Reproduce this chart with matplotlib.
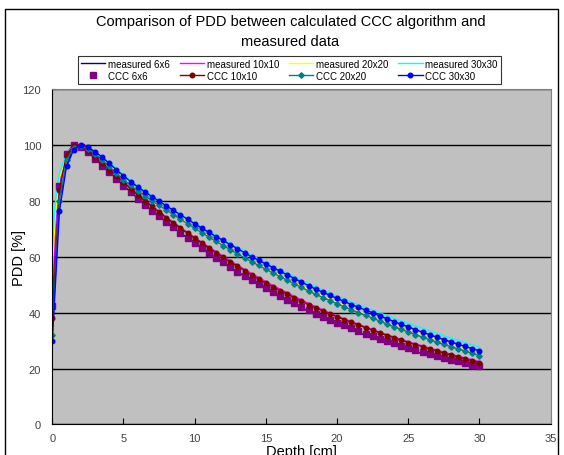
import matplotlib
matplotlib.use("Agg")
import matplotlib.pyplot as plt
from matplotlib.patches import Rectangle

plt.rcParams['font.family'] = ['Liberation Sans', 'DejaVu Sans']

# CCC calculation, every 0.5 cm
ccc_depth = [0.0, 0.5, 1.0, 1.5, 2.0, 2.5, 3.0, 3.5, 4.0, 4.5, 5.0, 5.5, 6.0, 6.5, 7.0, 7.5,
             8.0, 8.5, 9.0, 9.5, 10.0, 10.5, 11.0, 11.5, 12.0, 12.5, 13.0, 13.5, 14.0, 14.5,
             15.0, 15.5, 16.0, 16.5, 17.0, 17.5, 18.0, 18.5, 19.0, 19.5, 20.0, 20.5, 21.0,
             21.5, 22.0, 22.5, 23.0, 23.5, 24.0, 24.5, 25.0, 25.5, 26.0, 26.5, 27.0, 27.5,
             28.0, 28.5, 29.0, 29.5, 30.0]
ccc_6x6 = [42.5, 85.2, 96.6, 99.8, 99.2, 97.3, 95.0, 92.6, 90.2, 87.8, 85.4, 83.0, 80.7, 78.6,
           76.5, 74.4, 72.4, 70.5, 68.6, 66.8, 65.0, 63.2, 61.4, 59.7, 58.0, 56.3, 54.7, 53.1,
           51.6, 50.1, 48.7, 47.3, 45.9, 44.6, 43.3, 42.0, 40.8, 39.6, 38.5, 37.4, 36.4, 35.4,
           34.4, 33.4, 32.5, 31.6, 30.7, 29.8, 29.0, 28.2, 27.4, 26.7, 26.0, 25.3, 24.6, 23.9,
           23.2, 22.6, 22.0, 21.4, 20.8]
ccc_10x10 = [37.9, 83.9, 96.4, 99.7, 99.5, 97.8, 95.6, 93.4, 91.2, 88.9, 86.6, 84.3, 82.1, 80.0,
             78.0, 75.9, 73.9, 72.0, 70.2, 68.4, 66.6, 64.9, 63.1, 61.4, 59.8, 58.1, 56.6, 55.0,
             53.5, 52.0, 50.6, 49.2, 47.9, 46.6, 45.3, 44.0, 42.8, 41.7, 40.6, 39.5, 38.5, 37.5,
             36.5, 35.5, 34.6, 33.7, 32.7, 31.8, 31.0, 30.1, 29.3, 28.5, 27.8, 27.0, 26.3, 25.5,
             24.8, 24.1, 23.4, 22.8, 22.1]
ccc_20x20 = [32.1, 80.1, 94.5, 98.8, 99.6, 98.6, 96.8, 94.6, 92.3, 89.9, 87.6, 85.5, 83.6, 81.8,
             80.0, 78.4, 76.7, 75.1, 73.4, 71.8, 70.2, 68.6, 67.0, 65.5, 64.0, 62.5, 61.1, 59.6,
             58.2, 56.9, 55.5, 54.2, 52.9, 51.6, 50.3, 49.0, 47.7, 46.5, 45.4, 44.3, 43.2, 42.1,
             41.0, 40.0, 39.0, 38.0, 37.0, 35.9, 34.9, 34.0, 33.1, 32.1, 31.2, 30.3, 29.4, 28.6,
             27.8, 27.0, 26.2, 25.4, 24.6]
ccc_30x30 = [29.8, 76.3, 92.4, 98.3, 100.0, 99.2, 97.6, 95.6, 93.4, 91.1, 88.9, 86.9, 85.0, 83.2,
             81.5, 79.9, 78.2, 76.6, 75.0, 73.4, 71.8, 70.2, 68.7, 67.2, 65.8, 64.3, 62.9, 61.4,
             60.0, 58.7, 57.4, 56.1, 54.8, 53.5, 52.2, 50.9, 49.6, 48.4, 47.3, 46.2, 45.1, 44.0,
             42.9, 41.9, 40.9, 39.9, 38.9, 37.8, 36.8, 35.8, 34.9, 33.9, 33.0, 32.1, 31.2, 30.3,
             29.5, 28.7, 27.9, 27.1, 26.3]

# measured data
meas_depth = [0.0, 0.2, 0.5, 1.0, 1.5, 2.0, 2.5, 3, 4, 5, 6, 7, 8, 9, 10, 11, 12, 13, 14, 15,
              16, 17, 18, 19, 20, 21, 22, 23, 24, 25, 26, 27, 28, 29, 30]
meas_6x6 = [45.0, 66.0, 86.5, 97.0, 100.0, 99.3, 97.4, 95.1, 90.3, 85.5, 80.8, 76.5, 72.4, 68.5,
            64.9, 61.3, 57.9, 54.6, 51.5, 48.5, 45.7, 43.0, 40.5, 38.1, 35.9, 33.8, 31.9, 30.1,
            28.4, 26.8, 25.3, 23.9, 22.5, 21.3, 20.1]
meas_10x10 = [48.6, 68.0, 86.0, 96.8, 99.9, 99.6, 98.0, 95.9, 91.4, 86.8, 82.3, 78.2, 74.2, 70.5,
              66.9, 63.5, 60.2, 57.0, 54.0, 51.1, 48.4, 45.8, 43.3, 41.0, 38.8, 36.8, 34.9, 33.0,
              31.3, 29.6, 28.1, 26.6, 25.1, 23.8, 22.5]
meas_20x20 = [55.7, 74.0, 88.0, 96.5, 99.4, 100.0, 99.0, 97.2, 92.8, 88.4, 84.2, 80.4, 76.9, 73.6,
              70.4, 67.3, 64.3, 61.3, 58.5, 55.9, 53.3, 50.8, 48.4, 46.0, 43.6, 41.5, 39.5, 37.6,
              35.7, 33.9, 32.1, 30.4, 28.7, 27.0, 25.4]
meas_30x30 = [62.9, 79.0, 90.0, 97.0, 99.5, 100.0, 99.3, 97.8, 93.7, 89.4, 85.4, 81.8, 78.4, 75.2,
              72.1, 69.1, 66.2, 63.3, 60.5, 57.9, 55.3, 52.8, 50.4, 48.1, 45.9, 43.8, 41.8, 39.9,
              38.0, 36.2, 34.4, 32.6, 30.9, 29.2, 27.6]

fig = plt.figure(figsize=(5.64, 4.56), dpi=100)
ax = fig.add_axes([0.0927, 0.0671, 0.8837, 0.7355])
ax.set_facecolor('#C0C0C0')

# outer chart frame
fig.patches.append(Rectangle((5 / 564, -0.01), 553 / 564, 1 - 10 / 456 + 0.01,
                             transform=fig.transFigure, fill=False, edgecolor='black', lw=1))

m6, = ax.plot(meas_depth, meas_6x6, color='#000080', lw=1, label='measured 6x6')
m10, = ax.plot(meas_depth, meas_10x10, color='#FF00FF', lw=1, label='measured 10x10')
m20, = ax.plot(meas_depth, meas_20x20, color='#FFFF00', lw=1, label='measured 20x20')
m30, = ax.plot(meas_depth, meas_30x30, color='#00FFFF', lw=1, label='measured 30x30')
c6, = ax.plot(ccc_depth, ccc_6x6, ls='none', marker='s', ms=3.8, color='#800080', label='CCC 6x6')
c10, = ax.plot(ccc_depth, ccc_10x10, color='#800000', lw=1, marker='o', ms=3.3, label='CCC 10x10')
c20, = ax.plot(ccc_depth, ccc_20x20, color='#008080', lw=1, marker='D', ms=2.8, label='CCC 20x20')
c30, = ax.plot(ccc_depth, ccc_30x30, color='#0000FF', lw=1, marker='o', ms=3.3, label='CCC 30x30')

ax.set_xlim(0, 35)
ax.set_ylim(0, 120)
ax.set_xticks(range(0, 36, 5))
ax.set_yticks(range(0, 121, 20))
ax.yaxis.grid(True, color='black', lw=1)
ax.set_axisbelow(True)
ax.tick_params(axis='x', direction='in', length=4, labelsize=8, labelcolor='#404040', pad=6)
ax.tick_params(axis='y', direction='in', length=3, labelsize=8, labelcolor='#404040', pad=8)
for s in ['top', 'right']:
    ax.spines[s].set_color('#808080')
for s in ['left', 'bottom']:
    ax.spines[s].set_color('black')

ax.set_xlabel('Depth [cm]', fontsize=10.5)
ax.xaxis.set_label_coords(0.5, -0.058)
ax.set_ylabel('PDD [%]', fontsize=10.5)
ax.yaxis.set_label_coords(-0.053, 0.5)

fig.text(0.515, 0.952, 'Comparison of PDD between calculated CCC algorithm and',
         ha='center', va='center', fontsize=10.5)
fig.text(0.515, 0.907, 'measured data', ha='center', va='center', fontsize=10.5)

leg = fig.legend(handles=[m6, c6, m10, c10, m20, c20, m30, c30], ncol=4,
                 loc='center', bbox_to_anchor=(0.513, 0.845), fontsize=7,
                 frameon=True, fancybox=False, edgecolor='black', handlelength=2.5,
                 handletextpad=0.3, columnspacing=1.0, labelspacing=0.2, borderpad=0.3)
leg.get_frame().set_linewidth(0.8)

fig.savefig('out.png', dpi=100)
